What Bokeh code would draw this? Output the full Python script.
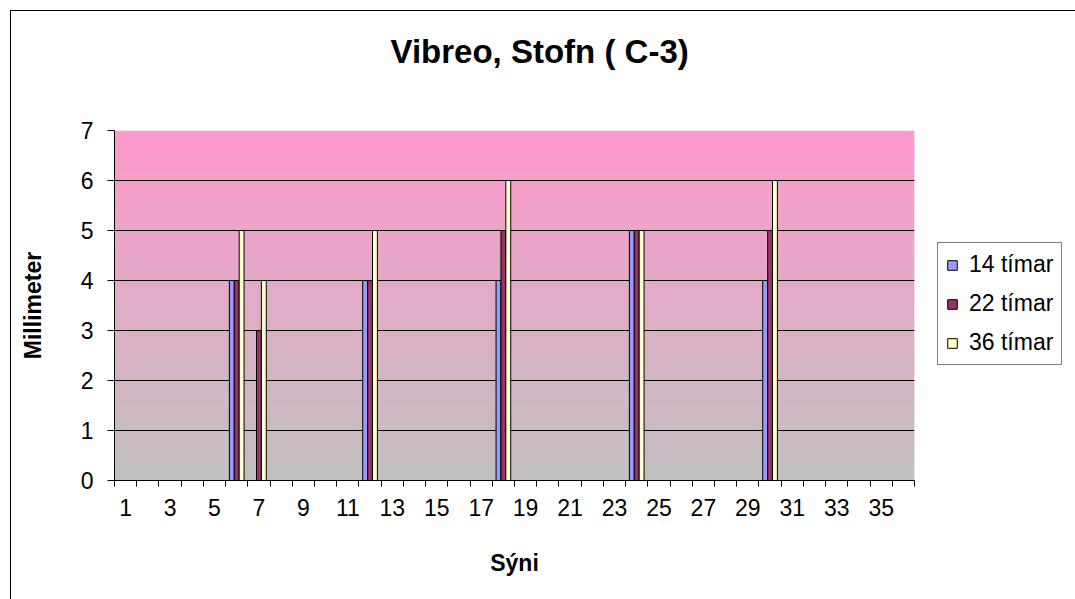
import numpy as np
from bokeh.plotting import figure
from bokeh.models import (Range1d, FixedTicker, Legend, LegendItem, ColumnDataSource, LinearAxis)
from bokeh.embed import file_html
from bokeh.resources import INLINE

# ---------------- data ----------------
categories = list(range(1, 37))
bar_categories = [6, 7, 12, 18, 24, 30]
series_names = ["14 tímar", "22 tímar", "36 tímar"]
vals_14 = [4, 0, 4, 4, 5, 4]
vals_22 = [4, 3, 4, 5, 5, 5]
vals_36 = [5, 4, 5, 6, 5, 6]
y_ticks = [0, 1, 2, 3, 4, 5, 6, 7]
x_tick_labels = [c for c in categories if c % 2 == 1]
series_colors = ["#9999FF", "#993366", "#FFFFCC"]

title_text = "Vibreo, Stofn ( C-3)"
x_title = "Sýni"
y_title = "Millimeter"
FONT = "Liberation Sans"

# ---------------- figure ----------------
x_start, x_end = categories[0] - 0.5, categories[-1] + 0.5
y_start, y_end = y_ticks[0], y_ticks[-1]

p = figure(frame_width=800, frame_height=350, output_backend="svg", toolbar_location=None,
           x_range=Range1d(x_start, x_end), y_range=Range1d(y_start, y_end),
           min_border_left=103, min_border_right=159,
           min_border_top=119, min_border_bottom=119)
p.outline_line_color = None
p.background_fill_color = "white"
p.border_fill_color = "white"
p.styles = {"margin-left": "10px", "margin-top": "10px",
            "border-left": "1px solid black", "border-top": "1px solid black",
            "border-right": "1px solid black"}

xa = p.below[0]
ya = p.left[0]

# title (outermost panel above) with an invisible spacer axis between it and the frame
p.title.text = title_text
p.title.text_font = FONT
p.title.text_font_size = "33px"
p.title.text_font_style = "bold"
p.title.text_color = "black"
p.title.align = "left"
p.title.offset = 276
p.title.standoff = 10

spacer = LinearAxis(ticker=FixedTicker(ticks=[x_start]), major_tick_out=56, major_tick_in=0,
                    minor_tick_out=0, minor_tick_in=0, axis_line_color=None,
                    major_tick_line_color=None, minor_tick_line_color=None,
                    major_label_standoff=0, major_label_text_alpha=0,
                    major_label_text_font_size="1px")
p.add_layout(spacer, "above")

# gradient plot-area background (pink at top -> grey at bottom)
top_rgb = np.array([0xFF, 0x99, 0xCC], dtype=float)
bot_rgb = np.array([0xC0, 0xC0, 0xC0], dtype=float)
n_steps = 120
edges = np.linspace(y_start, y_end, n_steps + 1)
fracs = (edges[:-1] + edges[1:]) / 2 / (y_end - y_start)
grad_colors = ["#%02x%02x%02x" % tuple(int(round(c)) for c in (bot_rgb + (top_rgb - bot_rgb) * f))
               for f in fracs]
step = (y_end - y_start) / n_steps
p.quad(left=[x_start] * n_steps, right=[x_end] * n_steps,
       bottom=list(edges[:-1]), top=list(np.minimum(edges[:-1] + step * 1.6, y_end)),
       fill_color=grad_colors, line_color=None, level="image")

# bars
bar_w = 0.22
offsets = [-bar_w, 0.0, bar_w]
renderers = []
for vals, off, col in zip([vals_14, vals_22, vals_36], offsets, series_colors):
    src = ColumnDataSource(dict(x=[c + off for c in bar_categories], top=vals))
    r = p.vbar(x="x", top="top", bottom=0, width=bar_w, source=src,
               fill_color=col, line_color="black", line_width=1)
    renderers.append(r)

# grid
p.xgrid.visible = False
p.ygrid.ticker = FixedTicker(ticks=y_ticks)
p.ygrid.grid_line_color = "black"
p.ygrid.grid_line_width = 1
p.ygrid.level = "underlay"

# x axis (bottom)
xa.ticker = FixedTicker(ticks=x_tick_labels,
                        minor_ticks=[c - 0.5 for c in categories] + [categories[-1] + 0.5])
xa.major_tick_out = 0
xa.major_tick_in = 0
xa.minor_tick_out = 6
xa.minor_tick_in = 0
xa.minor_tick_line_color = "black"
xa.axis_line_color = "black"
xa.major_label_text_font = FONT
xa.major_label_text_font_size = "23px"
xa.major_label_text_color = "black"
xa.major_label_standoff = 12
xa.axis_label = x_title
xa.axis_label_text_font = FONT
xa.axis_label_text_font_size = "23px"
xa.axis_label_text_font_style = "bold"
xa.axis_label_text_color = "black"
xa.axis_label_standoff = 31

# y axis
ya.ticker = FixedTicker(ticks=y_ticks)
ya.major_tick_out = 7
ya.major_tick_in = 0
ya.minor_tick_out = 0
ya.minor_tick_in = 0
ya.major_tick_line_color = "black"
ya.axis_line_color = "black"
ya.major_label_text_font = FONT
ya.major_label_text_font_size = "23px"
ya.major_label_text_color = "black"
ya.major_label_standoff = 14
ya.axis_label = y_title
ya.axis_label_text_font = FONT
ya.axis_label_text_font_size = "23px"
ya.axis_label_text_font_style = "bold"
ya.axis_label_text_color = "black"
ya.axis_label_standoff = 32

# legend (in the right-hand panel)
legend = Legend(items=[LegendItem(label=n, renderers=[r]) for n, r in zip(series_names, renderers)],
                location=(23, 115), orientation="vertical",
                border_line_color="black", border_line_width=1,
                background_fill_color="white", background_fill_alpha=1.0,
                label_text_font=FONT, label_text_font_size="23px", label_text_color="black",
                glyph_width=12, glyph_height=12, label_height=24, label_standoff=11,
                spacing=12, padding=8, margin=0)
p.add_layout(legend, "right")

open("out.html", "w").write(file_html(p, INLINE))
